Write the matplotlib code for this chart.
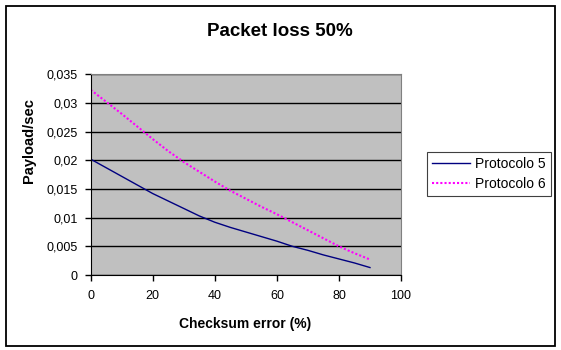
import matplotlib
matplotlib.use("Agg")
import matplotlib.pyplot as plt
from matplotlib.patches import Rectangle
from matplotlib.ticker import FuncFormatter

plt.rcParams['font.family'] = ['Liberation Sans', 'DejaVu Sans']

title = "Packet loss 50%"
xlabel = "Checksum error (%)"
ylabel = "Payload/sec"
x_vals = [0, 5, 10, 15, 20, 25, 30, 35, 40, 45, 50, 55, 60, 65, 70, 75, 80, 85, 90]
protocollo5 = [0.0202, 0.0187, 0.0172, 0.0157, 0.0142, 0.0129, 0.0116, 0.0103, 0.0092,
               0.0083, 0.0075, 0.0067, 0.0059, 0.0050, 0.0043, 0.0035, 0.0028, 0.0021, 0.0013]
protocollo6 = [0.0323, 0.0302, 0.0281, 0.0259, 0.0237, 0.0216, 0.0197, 0.0180, 0.0163,
               0.0147, 0.0133, 0.0119, 0.0106, 0.0092, 0.0078, 0.0064, 0.0050, 0.0038, 0.0027]
series_names = ["Protocolo 5", "Protocolo 6"]
x_ticks = [0, 20, 40, 60, 80, 100]
y_ticks = [0, 0.005, 0.01, 0.015, 0.02, 0.025, 0.03, 0.035]

W, H = 561, 350
fig = plt.figure(figsize=(W / 100, H / 100), dpi=100)
fig.patch.set_facecolor('white')

# outer frame
fig.patches.append(Rectangle((6.3 / W, 1 - 345.7 / H), (555 - 6.3) / W, (345.7 - 6) / H,
                             transform=fig.transFigure, fill=False, edgecolor='black',
                             linewidth=1.3, zorder=0))

ax = fig.add_axes([90.7 / W, 1 - 275 / H, (401 - 90.7) / W, (275 - 74.3) / H])
ax.set_facecolor('#C0C0C0')
ax.set_xlim(0, 100)
ax.set_ylim(0, 0.035)
ax.set_xticks(x_ticks)
ax.set_yticks(y_ticks)

def yfmt(v, pos):
    s = ('%.3f' % v).rstrip('0').rstrip('.')
    return s.replace('.', ',')

ax.yaxis.set_major_formatter(FuncFormatter(yfmt))
ax.tick_params(axis='both', direction='out', length=4.5, width=1, labelsize=9,
               colors='black')
ax.tick_params(axis='x', pad=6)
ax.tick_params(axis='y', pad=5)
ax.yaxis.grid(True, color='black', linewidth=1)
ax.set_axisbelow(True)
for side in ['top', 'right']:
    ax.spines[side].set_color('#808080')
for side in ['left', 'bottom']:
    ax.spines[side].set_color('black')

l5, = ax.plot(x_vals, protocollo5, color='#000080', linewidth=1, label=series_names[0])
l6, = ax.plot(x_vals, protocollo6, color='#FF00FF', linewidth=1.5, linestyle=(0, (1, 1)),
              label=series_names[1])

fig.text(245 / W, 1 - 324 / H, xlabel, ha='center', va='center', fontsize=10,
         fontweight='bold')
fig.text(29 / W, 1 - 141 / H, ylabel, ha='center', va='center', fontsize=10.5,
         fontweight='bold', rotation=90)
fig.text(280 / W, 1 - 31 / H, title, ha='center', va='center', fontsize=13.5,
         fontweight='bold')

leg = fig.legend(handles=[l5, l6], loc='upper left',
                 bbox_to_anchor=(426.7 / W, 1 - 151.7 / H), borderaxespad=0,
                 fancybox=False, edgecolor='#404040', framealpha=1, fontsize=10,
                 handlelength=2.75, handletextpad=0.3, borderpad=0.4, labelspacing=0.4)
leg.get_frame().set_linewidth(0.8)

fig.savefig('out.png', dpi=100)
